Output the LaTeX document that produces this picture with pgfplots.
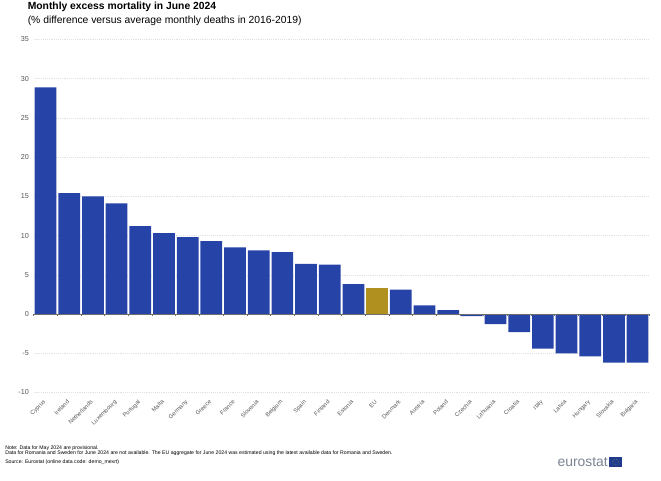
\documentclass[border=0pt]{standalone}
\usepackage{pgfplots}
\pgfplotsset{compat=1.18}
\usepackage{fontspec}
\setmainfont{Liberation Sans}

\definecolor{eublue}{HTML}{2644A7}
\definecolor{eugold}{HTML}{B09120}
\definecolor{gridgrey}{HTML}{E0E0E0}
\definecolor{axisgrey}{HTML}{6E6E6E}
\definecolor{labelgrey}{HTML}{555555}
\definecolor{logogrey}{HTML}{7A8492}

\begin{document}
\begin{tikzpicture}
	\begin{axis}[
		at={(25.28pt,65.63pt)},
		anchor=south west,
		scale only axis,
		width=461.8pt,
		height=264.8pt,
		xmin=0.5, xmax=26.5,
		ymin=-10, ymax=35,
		axis line style={draw=none},
		ybar,
		bar width=16.3pt,
		xtick={1,...,26},
		xticklabels={Cyprus,Ireland,Netherlands,Luxembourg,Portugal,Malta,Germany,Greece,France,Slovenia,Belgium,Spain,Finland,Estonia,EU,Denmark,Austria,Poland,Czechia,Lithuania,Croatia,Italy,Latvia,Hungary,Slovakia,Bulgaria},
		xticklabel style={rotate=45, anchor=north east, font=\fontsize{4.4}{5}\selectfont, text=labelgrey, inner sep=0pt, yshift=-2.1pt, xshift=-4.9pt},
		ytick={-10,-5,...,35},
		yticklabel style={font=\fontsize{5.4}{6}\selectfont, text=labelgrey, inner sep=0pt, xshift=-3.5pt},
		/pgf/number format/assume math mode=true,
		major tick length=0pt,
		ymajorgrids,
		grid style={gridgrey, densely dotted, line width=0.4pt},
		clip=false,
	]
		\addplot[fill=eublue, draw=none, bar shift=0pt] coordinates {
			(1,28.9) (2,15.4) (3,15.0) (4,14.1) (5,11.2) (6,10.3) (7,9.8) (8,9.3)
			(9,8.5) (10,8.1) (11,7.9) (12,6.4) (13,6.3) (14,3.8)
			(16,3.1) (17,1.1) (18,0.5) (19,-0.25) (20,-1.3) (21,-2.3) (22,-4.4)
			(23,-5.0) (24,-5.4) (25,-6.2) (26,-6.2)
		};
		\addplot[fill=eugold, draw=none, bar shift=0pt] coordinates {(15,3.3)};
		% zero line with ticks between the categories
		\draw[axisgrey, line width=0.7pt] (axis cs:0.5,0) -- (axis cs:26.5,0);
		\pgfplotsinvokeforeach{0,...,26}{
			\draw[axisgrey, line width=0.5pt] (axis cs:#1.5,0) -- ++(0pt,-1.8pt);
		}
	\end{axis}

	% page, titles, notes and logo: 1 unit = 1 px of the reference, y from the bottom
	\begin{scope}[x=0.75pt,y=0.75pt]
	\path (0,0) rectangle (661,480);
	\node[anchor=base west, inner sep=0pt, font=\fontsize{7.75}{9}\selectfont\bfseries] at (27.5,470.5) {Monthly excess mortality in June 2024};
	\node[anchor=base west, inner sep=0pt, font=\fontsize{7.75}{9}\selectfont] at (27.5,457) {(\% difference versus average monthly deaths in 2016-2019)};

	\node[anchor=base west, inner sep=0pt, font=\fontsize{3.88}{5}\selectfont] at (5,31) {Note: Data for May 2024 are provisional.};
	\node[anchor=base west, inner sep=0pt, font=\fontsize{3.88}{5}\selectfont] at (5,25.5) {Data for Romania and Sweden for June 2024 are not available. The EU aggregate for June 2024 was estimated using the latest available data for Romania and Sweden.};
	\node[anchor=base west, inner sep=0pt, font=\fontsize{3.88}{5}\selectfont] at (5,17) {Source: Eurostat (online data code: demo\_mexrt)};

	\node[anchor=base east, inner sep=0pt, text=logogrey, font=\fontsize{10.4}{12}\selectfont] at (608,14) {eurostat};
	\fill[eublue!85!black] (609,13) rectangle (622,23);
	\draw[yellow!70!black, densely dotted, line width=0.3pt] (615.5,18) circle (3);
	\end{scope}
\end{tikzpicture}
\end{document}
